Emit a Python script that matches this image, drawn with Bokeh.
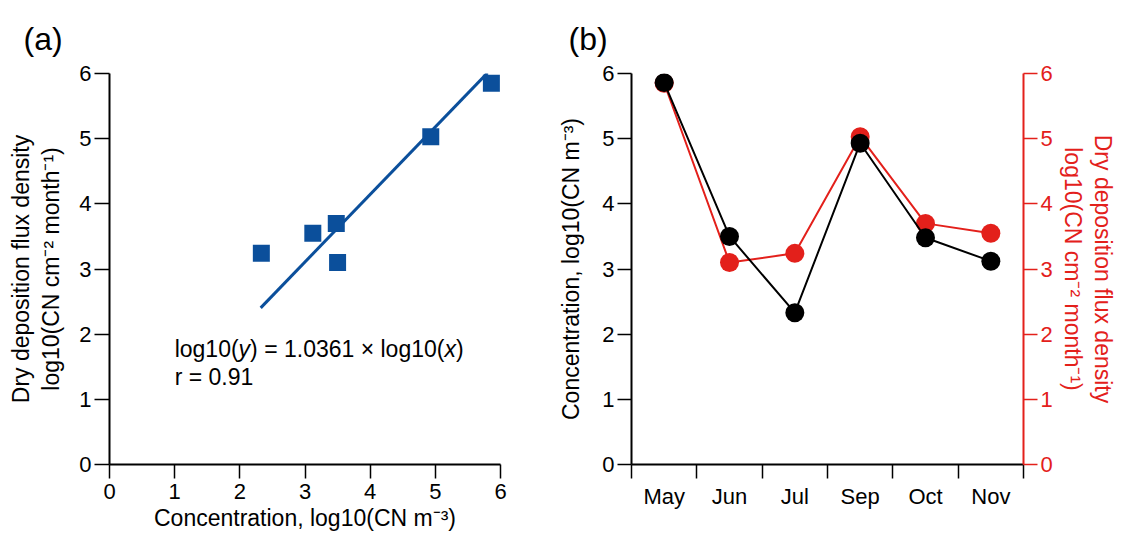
from bokeh.plotting import figure
from bokeh.layouts import row
from bokeh.models import Range1d, LinearAxis, FixedTicker, Label
from bokeh.embed import file_html
from bokeh.resources import INLINE

# ---------------- data ----------------
months = ["May", "Jun", "Jul", "Sep", "Oct", "Nov"]
concentration = [5.86, 3.50, 2.33, 4.93, 3.48, 3.12]   # log10(CN m^-3)
flux = [5.85, 3.10, 3.24, 5.03, 3.70, 3.55]            # log10(CN cm^-2 month^-1)
fit_slope = 1.0361
fit_x = [2.32, 5.80]
r_value = 0.91
axis_ticks = [0, 1, 2, 3, 4, 5, 6]

FONT = "Liberation Sans"
BLUE = "#0b4f9b"
RED = "#e3201b"
BLACK = "#000000"
TICK_FS = "22px"
LABEL_FS = "23px"


def style_axis(ax, color=BLACK, tick_out=14):
    ax.axis_line_color = color
    ax.axis_line_width = 2
    ax.major_tick_line_color = color
    ax.major_tick_line_width = 1.5
    ax.major_tick_out = tick_out
    ax.major_tick_in = 0
    ax.minor_tick_line_color = None
    ax.major_label_text_font = FONT
    ax.major_label_text_font_size = TICK_FS
    ax.major_label_text_color = color
    ax.axis_label_text_font = FONT
    ax.axis_label_text_font_size = LABEL_FS
    ax.axis_label_text_font_style = "normal"
    ax.axis_label_text_color = color
    ax.axis_label_text_line_height = 1.15


def style_title(p, text, offset):
    p.title.text = text
    p.title.align = "left"
    p.title.offset = offset
    p.title.standoff = 34
    p.title.text_font = FONT
    p.title.text_font_size = "32px"
    p.title.text_font_style = "normal"
    p.title.text_color = BLACK


# ---------------- panel (a) ----------------
p1 = figure(width=540, height=536, x_range=Range1d(0, 6), y_range=Range1d(0, 6),
            output_backend="svg", toolbar_location=None,
            min_border_left=109, min_border_right=40, min_border_top=73, min_border_bottom=72)
p1.outline_line_color = None
p1.grid.visible = False
style_title(p1, "(a)", -86)

for ax in p1.xaxis:
    style_axis(ax, tick_out=14)
    ax.ticker = FixedTicker(ticks=axis_ticks)
    ax.major_label_standoff = 5
    ax.axis_label_standoff = 3
    ax.axis_label = "Concentration, log10(CN m\u207b\u00b3)"
for ax in p1.yaxis:
    style_axis(ax, tick_out=15)
    ax.ticker = FixedTicker(ticks=axis_ticks)
    ax.major_label_standoff = 3
    ax.axis_label_standoff = 12
    ax.axis_label = "Dry deposition flux density\nlog10(CN cm\u207b\u00b2 month\u207b\u00b9)"

fit_y = [fit_slope * v for v in fit_x]
p1.line(fit_x, fit_y, line_color=BLUE, line_width=3)
p1.scatter(concentration, flux, marker="square", size=17, fill_color=BLUE, line_color=None)

# equation, with italic variables (offsets in em of Arial-metric font)
eq_x, eq_y = 1.0, 1.77
fs = 23
pieces = [("log10(", "normal", 0.0),
          ("y", "italic", 2.779),
          (") = 1.0361 \u00d7 log10(", "normal", 3.279),
          ("x", "italic", 11.729),
          (")", "normal", 12.229)]
for txt, style, em in pieces:
    p1.add_layout(Label(x=eq_x, y=eq_y, x_offset=em * fs, text=txt, text_font=FONT,
                        text_font_size=f"{fs}px", text_font_style=style,
                        text_color=BLACK, text_baseline="alphabetic", text_align="left"))
p1.add_layout(Label(x=eq_x, y=1.35, text=f"r = {r_value:.2f}", text_font=FONT,
                    text_font_size=f"{fs}px", text_color=BLACK,
                    text_baseline="alphabetic", text_align="left"))

# ---------------- panel (b) ----------------
p2 = figure(width=581, height=536, x_range=Range1d(0, len(months)), y_range=Range1d(0, 6),
            output_backend="svg", toolbar_location=None,
            min_border_left=91, min_border_right=98, min_border_top=73, min_border_bottom=72)
p2.outline_line_color = None
p2.grid.visible = False
p2.extra_y_ranges = {"flux": Range1d(0, 6)}
style_title(p2, "(b)", -63)

pos = [i + 0.5 for i in range(len(months))]
for ax in p2.xaxis:
    style_axis(ax, tick_out=14)
    ax.ticker = FixedTicker(ticks=pos, minor_ticks=list(range(len(months) + 1)))
    ax.major_label_overrides = {p: m for p, m in zip(pos, months)}
    ax.major_tick_line_color = None
    ax.minor_tick_line_color = BLACK
    ax.minor_tick_line_width = 1.5
    ax.minor_tick_out = 14
    ax.minor_tick_in = 0
    ax.major_label_standoff = 5
for ax in p2.yaxis:
    style_axis(ax, tick_out=14)
    ax.ticker = FixedTicker(ticks=axis_ticks)
    ax.major_label_standoff = 3
    ax.axis_label_standoff = 15
    ax.axis_label = "Concentration, log10(CN m\u207b\u00b3)"

right_axis = LinearAxis(y_range_name="flux", ticker=FixedTicker(ticks=axis_ticks),
                        axis_label="Dry deposition flux density\nlog10(CN cm\u207b\u00b2 month\u207b\u00b9)")
style_axis(right_axis, color=RED, tick_out=14)
right_axis.major_label_standoff = 3
right_axis.axis_label_standoff = 4
p2.add_layout(right_axis, "right")

p2.line(pos, flux, y_range_name="flux", line_color=RED, line_width=2)
p2.scatter(pos, flux, y_range_name="flux", marker="circle", size=19, fill_color=RED, line_color=None)
p2.line(pos, concentration, line_color=BLACK, line_width=2)
p2.scatter(pos, concentration, marker="circle", size=19, fill_color=BLACK, line_color=None)

layout = row(p1, p2)
open("out.html", "w").write(file_html(layout, INLINE))
